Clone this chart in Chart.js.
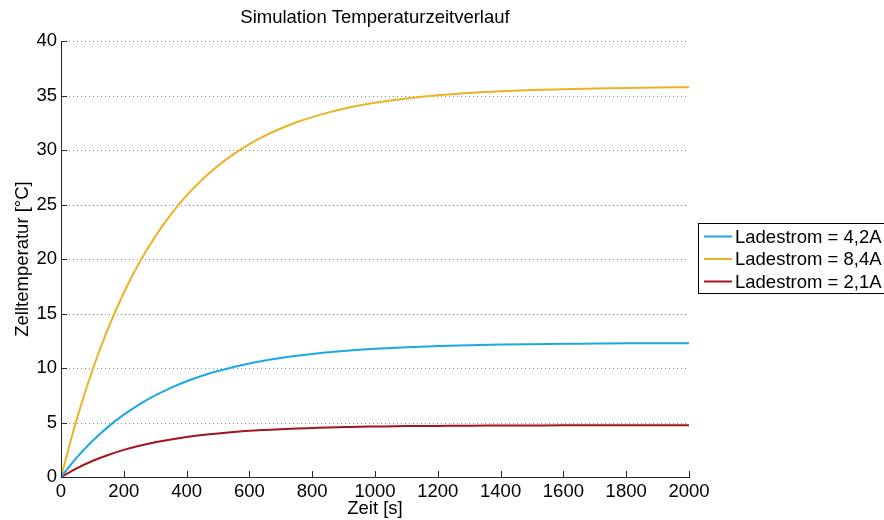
<!DOCTYPE html>
<html>
<head>
<meta charset="utf-8">
<script src="https://cdn.jsdelivr.net/npm/chart.js@4"></script>
<style>
  html, body { margin: 0; padding: 0; background: #fff; }
  #wrap { width: 884px; height: 520px; }
</style>
</head>
<body>
<div id="wrap"><canvas id="tempChart"></canvas></div>
<script>
// ===================
// Data
// ===================
const zeit = [0, 50, 100, 150, 200, 250, 300, 350, 400, 450, 500, 550, 600, 650, 700, 750, 800, 850, 900, 950, 1000,
              1100, 1200, 1300, 1400, 1500, 1600, 1700, 1800, 1900, 2000];
const strom42 = [0, 1.78, 3.30, 4.60, 5.72, 6.67, 7.48, 8.18, 8.78, 9.29, 9.72, 10.10, 10.42, 10.69, 10.92, 11.12, 11.29, 11.44, 11.56, 11.67, 11.76,
                 11.91, 12.01, 12.09, 12.15, 12.19, 12.22, 12.24, 12.26, 12.27, 12.28];
const strom84 = [0, 5.30, 9.79, 13.63, 16.90, 19.70, 22.07, 24.09, 25.83, 27.30, 28.55, 29.62, 30.54, 31.31, 31.97, 32.54, 33.02, 33.43, 33.78, 34.08, 34.33,
                 34.73, 35.03, 35.24, 35.39, 35.50, 35.58, 35.64, 35.69, 35.73, 35.76];
const strom21 = [0, 0.80, 1.47, 2.02, 2.49, 2.87, 3.19, 3.45, 3.67, 3.85, 4.00, 4.13, 4.24, 4.32, 4.39, 4.45, 4.50, 4.55, 4.58, 4.61, 4.63,
                 4.67, 4.69, 4.71, 4.72, 4.73, 4.74, 4.74, 4.75, 4.75, 4.75];
const labels = ['Ladestrom = 4,2A', 'Ladestrom = 8,4A', 'Ladestrom = 2,1A'];
const colors = ['#1ba8e4', '#ecb222', '#a3141f'];
const titel = 'Simulation Temperaturzeitverlauf';

function toPoints(ys) {
    return zeit.map(function (t, i) { return {x: t, y: ys[i]}; });
}

const FONT = 'Liberation Sans, Arial, Helvetica, sans-serif';
const FSIZE = 18.5;
Chart.defaults.font.family = FONT;
Chart.defaults.font.size = FSIZE;
Chart.defaults.color = '#000';

// dotted horizontal grid lines, inward ticks, title over the plot and the boxed legend
const matlabAxes = {
    id: 'matlabAxes',
    beforeDatasetsDraw(chart) {
        const {ctx, chartArea, scales} = chart;
        ctx.save();
        ctx.strokeStyle = '#8c8c8c';
        ctx.lineWidth = 1;
        ctx.setLineDash([1, 3]);
        scales.y.ticks.forEach(function (t) {
            if (t.value === 0) return;
            const y = Math.round(scales.y.getPixelForValue(t.value)) + 0.5;
            ctx.beginPath();
            ctx.moveTo(chartArea.left, y);
            ctx.lineTo(chartArea.right, y);
            ctx.stroke();
        });
        ctx.restore();
    },
    afterDraw(chart) {
        const {ctx, chartArea, scales} = chart;
        ctx.save();
        ctx.strokeStyle = '#262626';
        ctx.lineWidth = 1;
        scales.x.ticks.forEach(function (t) {
            const x = Math.round(scales.x.getPixelForValue(t.value)) + 0.5;
            ctx.beginPath();
            ctx.moveTo(x, chartArea.bottom);
            ctx.lineTo(x, chartArea.bottom - 6);
            ctx.stroke();
        });
        scales.y.ticks.forEach(function (t) {
            const y = Math.round(scales.y.getPixelForValue(t.value)) + 0.5;
            ctx.beginPath();
            ctx.moveTo(chartArea.left, y);
            ctx.lineTo(chartArea.left + 6, y);
            ctx.stroke();
        });

        ctx.font = FSIZE + 'px ' + FONT;
        ctx.fillStyle = '#000';
        ctx.textAlign = 'center';
        ctx.textBaseline = 'middle';
        ctx.fillText(titel, (chartArea.left + chartArea.right) / 2, 18);

        // legend box
        const bx = 698.5, by = 223.5, bw = 190, bh = 70;
        ctx.fillStyle = '#fff';
        ctx.fillRect(bx, by, bw, bh);
        ctx.strokeStyle = '#000';
        ctx.strokeRect(bx, by, bw, bh);
        ctx.textAlign = 'left';
        chart.data.datasets.forEach(function (ds, i) {
            const cy = 236.5 + i * 22.5;
            ctx.strokeStyle = ds.borderColor;
            ctx.lineWidth = 2;
            ctx.beginPath();
            ctx.moveTo(704, cy);
            ctx.lineTo(732, cy);
            ctx.stroke();
            ctx.fillStyle = '#000';
            ctx.fillText(ds.label, 735, cy + 1);
        });
        ctx.restore();
    }
};

const ctx = document.getElementById('tempChart').getContext('2d');
const chart = new Chart(ctx, {
    type: 'line',
    data: {
        datasets: [
            {label: labels[0], data: toPoints(strom42), borderColor: colors[0], backgroundColor: colors[0]},
            {label: labels[1], data: toPoints(strom84), borderColor: colors[1], backgroundColor: colors[1]},
            {label: labels[2], data: toPoints(strom21), borderColor: colors[2], backgroundColor: colors[2]}
        ]
    },
    options: {
        responsive: true,
        maintainAspectRatio: false,
        animation: false,
        events: [],
        elements: {
            point: {radius: 0},
            line: {borderWidth: 2, cubicInterpolationMode: 'monotone'}
        },
        layout: {padding: {left: 0, right: 195, top: 41, bottom: 0}},
        plugins: {
            legend: {display: false},
            tooltip: {enabled: false},
            title: {display: false}
        },
        scales: {
            x: {
                type: 'linear',
                min: 0,
                max: 2000,
                grid: {display: false, drawTicks: false},
                border: {color: '#262626', width: 1},
                ticks: {
                    stepSize: 200, padding: 4, maxRotation: 0, color: '#000',
                    callback: function (v) { return String(v); }
                },
                title: {display: true, text: 'Zeit [s]', color: '#000', padding: {top: 0, bottom: 0}},
                afterFit(scale) { scale.height = 43; }
            },
            y: {
                min: 0,
                max: 40,
                grid: {display: false, drawTicks: false},
                border: {color: '#262626', width: 1},
                ticks: {stepSize: 5, padding: 4, color: '#000'},
                title: {display: true, text: 'Zelltemperatur [°C]', color: '#000', padding: {top: 12, bottom: 0}},
                afterFit(scale) { scale.width = 61; }
            }
        }
    },
    plugins: [matlabAxes]
});
</script>
</body>
</html>
